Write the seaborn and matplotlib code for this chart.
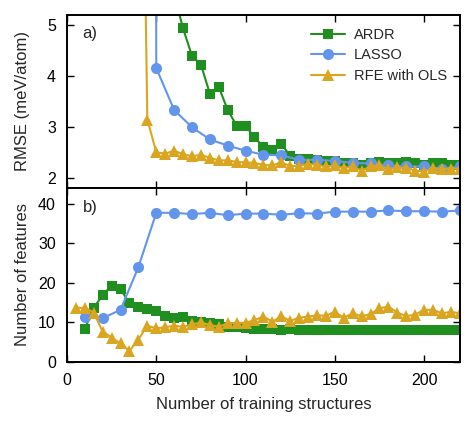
import numpy as np
import pandas as pd
import matplotlib
matplotlib.use("Agg")
import matplotlib.pyplot as plt
import seaborn as sns

# ---------------- data ----------------
# RMSE panel (a)
ardr_rmse_x = [55, 60, 65, 70, 75, 80, 85, 90, 95, 100, 105, 110, 115, 120, 125, 130, 135, 140,
               145, 150, 155, 160, 165, 170, 175, 180, 185, 190, 195, 200, 205, 210, 215, 220]
ardr_rmse_y = [9.0, 5.6, 4.93, 4.39, 4.22, 3.65, 3.78, 3.33, 3.02, 3.02, 2.79, 2.61, 2.55, 2.67,
               2.42, 2.37, 2.37, 2.35, 2.33, 2.33, 2.29, 2.28, 2.25, 2.28, 2.31, 2.28, 2.29, 2.31,
               2.28, 2.25, 2.29, 2.28, 2.25, 2.25]

lasso_rmse_x = [40, 50, 60, 70, 80, 90, 100, 110, 120, 130, 140, 150, 160, 170, 180, 190, 200, 210, 220]
lasso_rmse_y = [200.0, 4.15, 3.33, 2.99, 2.75, 2.63, 2.53, 2.45, 2.44, 2.35, 2.35, 2.33, 2.29,
                2.28, 2.24, 2.22, 2.22, 2.17, 2.22]

rfe_rmse_x = [40, 45, 50, 55, 60, 65, 70, 75, 80, 85, 90, 95, 100, 105, 110, 115, 120, 125, 130,
              135, 140, 145, 150, 155, 160, 165, 170, 175, 180, 185, 190, 195, 200, 205, 210, 215, 220]
rfe_rmse_y = [15.0, 3.14, 2.50, 2.47, 2.53, 2.46, 2.42, 2.45, 2.39, 2.34, 2.34, 2.31, 2.30, 2.29,
              2.25, 2.24, 2.30, 2.23, 2.23, 2.27, 2.25, 2.22, 2.24, 2.19, 2.22, 2.14, 2.22, 2.24,
              2.17, 2.20, 2.19, 2.14, 2.12, 2.19, 2.17, 2.18, 2.18]

# Number of features panel (b)
ardr_nf_x = list(range(10, 221, 5))
ardr_nf_y = [8.4, 13.7, 17.0, 19.3, 18.4, 14.9, 14.0, 13.5, 12.9, 11.6, 11.1, 11.5, 10.3, 10.1,
             9.8, 9.6, 8.9, 8.8, 8.7, 8.4, 8.4, 8.4, 8.2, 8.4, 8.1, 8.0, 8.1, 8.0, 8.0, 8.0,
             8.0, 8.0, 8.0, 8.0, 8.0, 8.0, 8.0, 8.0, 8.0, 8.0, 8.0, 8.0, 8.0]

lasso_nf_x = list(range(10, 221, 10))
lasso_nf_y = [11.5, 11.1, 13.2, 24.0, 37.7, 37.7, 37.4, 37.7, 37.1, 37.5, 37.5, 37.2, 37.6,
              37.5, 38.0, 38.0, 38.0, 38.3, 38.1, 38.1, 38.0, 38.3]

rfe_nf_x = list(range(5, 221, 5))
rfe_nf_y = [13.7, 13.7, 12.5, 7.7, 6.2, 4.7, 2.8, 5.7, 9.2, 8.5, 8.8, 9.2, 8.9, 9.5, 10.0, 9.4,
            8.9, 9.8, 9.9, 9.9, 10.6, 11.5, 10.2, 11.6, 10.4, 11.2, 11.5, 11.8, 11.7, 12.7, 11.2,
            12.3, 11.6, 12.1, 13.6, 14.0, 12.5, 11.6, 12.0, 13.2, 13.2, 12.3, 12.7, 12.3]

labels = ["ARDR", "LASSO", "RFE with OLS"]
colors = ["#1f8f1f", "#6495ed", "#daa520"]
markers = ["s", "o", "^"]
msizes = [7.5, 8, 8.5]

# ---------------- plot ----------------
sns.set_theme(style="ticks")
plt.rcParams["font.family"] = ["Liberation Sans", "DejaVu Sans"]
plt.rcParams["font.size"] = 11.5

fig = plt.figure(figsize=(4.75, 4.28), dpi=100)
ax1 = fig.add_axes([0.141, 0.561, 0.827, 0.405])
ax2 = fig.add_axes([0.141, 0.154, 0.827, 0.407], sharex=ax1)

top_series = [(ardr_rmse_x, ardr_rmse_y), (lasso_rmse_x, lasso_rmse_y), (rfe_rmse_x, rfe_rmse_y)]
bot_series = [(ardr_nf_x, ardr_nf_y), (lasso_nf_x, lasso_nf_y), (rfe_nf_x, rfe_nf_y)]

for (x, y), lab, c, m, ms in zip(top_series, labels, colors, markers, msizes):
    df = pd.DataFrame({"x": x, "y": y})
    sns.lineplot(data=df, x="x", y="y", ax=ax1, color=c, marker=m, markersize=ms,
                 markeredgewidth=0, linewidth=1.5, label=lab)
for (x, y), lab, c, m, ms in zip(bot_series, labels, colors, markers, msizes):
    df = pd.DataFrame({"x": x, "y": y})
    sns.lineplot(data=df, x="x", y="y", ax=ax2, color=c, marker=m, markersize=ms,
                 markeredgewidth=0, linewidth=1.5, legend=False)

ax1.set_xlim(0, 220)
ax1.set_ylim(1.8, 5.2)
ax2.set_ylim(0, 44)
ax1.set_yticks([2, 3, 4, 5])
ax2.set_yticks([0, 10, 20, 30, 40])
ax2.set_xticks([0, 50, 100, 150, 200])

for ax in (ax1, ax2):
    ax.tick_params(direction="in", length=5, width=1, top=True, right=True,
                   labelsize=11.5, colors="black", pad=8)
    for s in ax.spines.values():
        s.set_linewidth(1.4)
        s.set_color("black")
ax1.tick_params(labelbottom=False)

ax1.set_xlabel("")
ax1.set_ylabel("RMSE (meV/atom)", fontsize=12)
ax2.set_ylabel("Number of features", fontsize=12)
ax2.set_xlabel("Number of training structures", fontsize=12, labelpad=6)
ax1.yaxis.set_label_coords(-0.095, 0.5)
ax2.yaxis.set_label_coords(-0.095, 0.5)

ax1.text(0.04, 0.89, "a)", transform=ax1.transAxes, fontsize=12, va="center")
ax2.text(0.04, 0.89, "b)", transform=ax2.transAxes, fontsize=12, va="center")

leg = ax1.legend(loc="upper right", frameon=False, handlelength=2.3, fontsize=10.5,
                 bbox_to_anchor=(1.0, 1.0), labelspacing=0.45, handletextpad=0.6)

fig.savefig("out.png", dpi=100)
